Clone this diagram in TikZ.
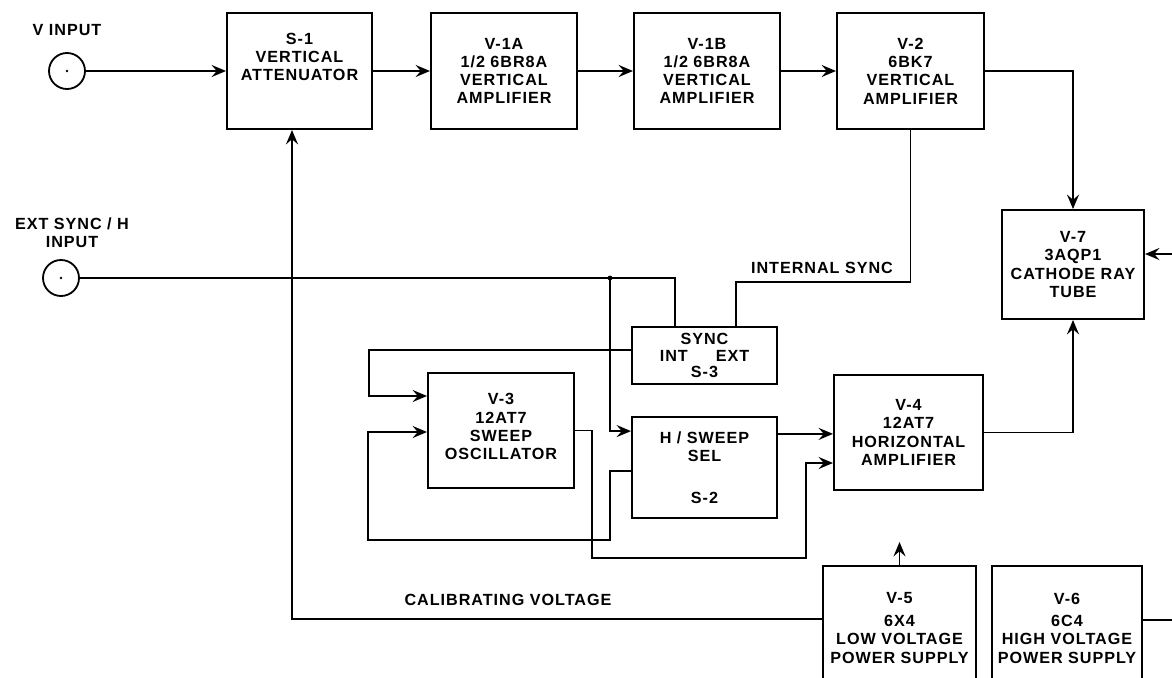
\documentclass[tikz,border=0pt]{standalone}
\usepackage{fontspec}
\setmainfont{Liberation Sans}[LetterSpace=6]
\usetikzlibrary{arrows.meta}
\tikzset{
    blk/.style={draw=black, line width=1.4pt, align=center, inner sep=0pt},
    jack/.style={draw=black, line width=1.3pt, circle, minimum size=9mm, inner sep=0pt},
    tag/.style={align=center, inner sep=1pt},
    wire/.style={line width=1.4pt},
    feed/.style={wire, -{Stealth[length=3.6mm, width=3mm, inset=1.3mm]}}
}

\begin{document}
\begin{tikzpicture}[x=0.25mm, y=-0.25mm, every node/.style={font=\fontsize{11.5}{13}\selectfont\bfseries}]
            \useasboundingbox (0,0) rectangle (1172,678);
            \node[jack] (vin) at (67,71) {};
            \node[tag] (vinlbl) at (67,30) {V INPUT};
            \node[jack] (extin) at (61,278) {};
            \node[tag] (extlbl) at (72,233) {EXT SYNC / H\\INPUT};
            \node[blk, minimum width=36.25mm, minimum height=29mm, text depth=7mm] (s1) at (299.5,71) {S-1\\VERTICAL\\ATTENUATOR};
            \node[blk, minimum width=36.5mm, minimum height=29mm] (v1a) at (504,71) {V-1A\\1/2 6BR8A\\VERTICAL\\AMPLIFIER};
            \node[blk, minimum width=36.5mm, minimum height=29mm] (v1b) at (707,71) {V-1B\\1/2 6BR8A\\VERTICAL\\AMPLIFIER};
            \node[blk, minimum width=36.75mm, minimum height=29mm] (v2) at (910.5,71) {V-2\\6BK7\\VERTICAL\\AMPLIFIER};
            \node[blk, minimum width=35.5mm, minimum height=27.25mm] (v7) at (1073,264.5) {V-7\\3AQP1\\CATHODE RAY\\TUBE};
            \node[blk, minimum width=36.25mm, minimum height=14.25mm, font=\fontsize{11.5}{11.5}\selectfont\bfseries] (s3) at (704.5,355.5) {SYNC\\INT\hspace{7mm}EXT\\S-3};
            \node[blk, minimum width=36.25mm, minimum height=25.25mm] (s2) at (704.5,467.5) {H / SWEEP\\SEL\\[6mm]S-2};
            \node[blk, minimum width=36.5mm, minimum height=28.75mm, text depth=2mm] (v3) at (501,430.5) {V-3\\12AT7\\SWEEP\\OSCILLATOR};
            \node[blk, minimum width=37.25mm, minimum height=28.75mm] (v4) at (908.5,432.5) {V-4\\12AT7\\HORIZONTAL\\AMPLIFIER};
            \node[blk, minimum width=38.25mm, minimum height=31mm] (v5) at (899.5,628) {V-5\\[3pt]6X4\\LOW VOLTAGE\\POWER SUPPLY};
            \node[blk, minimum width=37.5mm, minimum height=31mm] (v6) at (1067,628) {V-6\\[3pt]6C4\\HIGH VOLTAGE\\POWER SUPPLY};
            \node[tag] (intlbl) at (822,268) {INTERNAL SYNC};
            \node[tag] (callbl) at (508,600) {CALIBRATING VOLTAGE};
            \coordinate (crtin) at (1172,254);
            \coordinate (isy) at (736,282);
            \coordinate (extk) at (675,278);
            \coordinate (jn) at (610,278);
            \coordinate (syl) at (369,396);
            \coordinate (fbx) at (610,540);
            \coordinate (fbk) at (368,432);
            \coordinate (swx) at (592,558);
            \coordinate (swk) at (806,463);
            \coordinate (lvout) at (899.5,542);
            \coordinate (calv) at (292,619);
            \coordinate (hvout) at (1172,620);
            \fill (vin) circle[radius=0.35mm];
            \fill (extin) circle[radius=0.35mm];
            \draw[feed] (vin) -- (vin -| s1.west);
            \draw[feed] (s1) -- (v1a);
            \draw[feed] (v1a) -- (v1b);
            \draw[feed] (v1b) -- (v2);
            \draw[feed] (v2) -| (v7);
            \draw[feed] (crtin) -- (crtin -| v7.east);
            \draw[wire] (v2) |- (isy) -- (isy |- s3.north);
            \draw[wire] (extin) -- (extk) -- (extk |- s3.north);
            \fill (jn) circle[radius=0.6mm];
            \draw[feed] (jn) |- ([yshift=9.1mm]s2.west);
            \draw[feed] ([yshift=1.4mm]s3.west) -| (syl) -- (syl -| v3.west);
            \draw[feed] ([yshift=-0.9mm]s2.west) -| (fbx) -| (fbk) -- (fbk -| v3.west);
            \draw[feed] (v3) -| (swx) -| (swk) -- (swk -| v4.west);
            \draw[feed] ([yshift=8.4mm]s2.east) -- ([yshift=8.4mm]s2.east -| v4.west);
            \draw[feed] (v4) -| (v7);
            \draw[feed] (v5) -- (lvout);
            \draw[feed] (calv -| v5.west) -- (calv) -- (calv |- s1.south);
            \draw[wire] (hvout -| v6.east) -- (hvout);
        \end{tikzpicture}
\end{document}
